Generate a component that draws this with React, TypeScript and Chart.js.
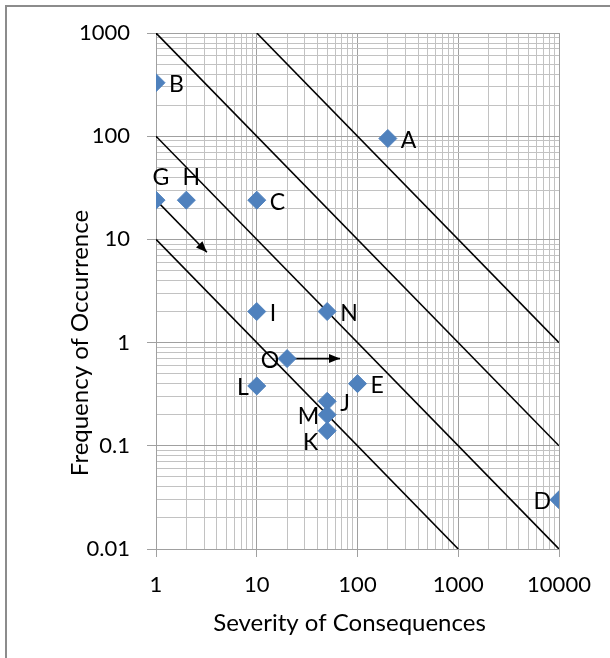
import React, { useEffect, useRef } from "react";
import { Chart, registerables } from "chart.js";

Chart.register(...registerables);

// ---- data ----
const pointLabels = ["A", "B", "C", "D", "E", "G", "H", "I", "J", "K", "L", "M", "N", "O"];
const severity = [200, 1, 10, 10000, 100, 1, 2, 10, 50, 50, 10, 50, 50, 20];
const frequency = [95, 330, 24, 0.03, 0.4, 24, 24, 2, 0.27, 0.14, 0.38, 0.2, 2, 0.7];
const labelSide = ["right", "right", "right", "left", "right", "above", "above", "right", "right", "leftBelow", "left", "left", "right", "left"];

// iso-risk lines (severity x frequency = constant)
const riskStartX = [1, 1, 1, 10];
const riskStartY = [10, 100, 1000, 1000];
const riskEndX = [1000, 10000, 10000, 10000];
const riskEndY = [0.01, 0.01, 0.1, 1];

// arrows
const arrowFromX = [1, 20];
const arrowFromY = [24, 0.7];
const arrowToX = [3.2, 67];
const arrowToY = [7.5, 0.7];

// axes
const xMajorTicks = [1, 10, 100, 1000, 10000];
const yMajorTicks = [0.01, 0.1, 1, 10, 100, 1000];
const xTitle = "Severity of Consequences";
const yTitle = "Frequency of Occurrence";

const FONT = "Lato";
const POINT_COLOR = "#4F81BD";

function buildLogTicks(majors: number[]) {
  const ticks: { value: number; major: boolean }[] = [];
  for (let i = 0; i < majors.length - 1; i++) {
    for (let k = 1; k <= 9; k++) {
      ticks.push({ value: parseFloat((k * majors[i]).toPrecision(6)), major: k === 1 });
    }
  }
  ticks.push({ value: majors[majors.length - 1], major: true });
  return ticks;
}

const overlayPlugin = {
  id: "overlay",
  afterDatasetsDraw(chart: any) {
    const ctx = chart.ctx;
    const xs = chart.scales.x;
    const ys = chart.scales.y;
    ctx.save();
    // arrowheads
    ctx.fillStyle = "#000";
    for (let i = 0; i < arrowToX.length; i++) {
      const x0 = xs.getPixelForValue(arrowFromX[i]);
      const y0 = ys.getPixelForValue(arrowFromY[i]);
      const x1 = xs.getPixelForValue(arrowToX[i]);
      const y1 = ys.getPixelForValue(arrowToY[i]);
      const a = Math.atan2(y1 - y0, x1 - x0);
      const len = 11;
      const hw = 4.5;
      ctx.beginPath();
      ctx.moveTo(x1, y1);
      ctx.lineTo(x1 - len * Math.cos(a) + hw * Math.sin(a), y1 - len * Math.sin(a) - hw * Math.cos(a));
      ctx.lineTo(x1 - len * Math.cos(a) - hw * Math.sin(a), y1 - len * Math.sin(a) + hw * Math.cos(a));
      ctx.closePath();
      ctx.fill();
    }
    // point labels
    const meta = chart.getDatasetMeta(0);
    ctx.font = `23px ${FONT}`;
    ctx.fillStyle = "#000";
    ctx.textBaseline = "middle";
    meta.data.forEach((el: any, i: number) => {
      const side = labelSide[i];
      const t = pointLabels[i];
      if (side === "right") {
        ctx.textAlign = "left";
        ctx.fillText(t, el.x + 13, el.y + 2);
      } else if (side === "left") {
        ctx.textAlign = "right";
        ctx.fillText(t, el.x - 8, el.y + 2);
      } else if (side === "leftBelow") {
        ctx.textAlign = "right";
        ctx.fillText(t, el.x - 9, el.y + 12);
      } else {
        ctx.textAlign = "center";
        ctx.fillText(t, el.x + 5, el.y - 23);
      }
    });
    // axis titles
    ctx.font = `24px ${FONT}`;
    ctx.textAlign = "center";
    ctx.textBaseline = "middle";
    const ca = chart.chartArea;
    ctx.fillText(xTitle, (ca.left + ca.right) / 2 - 8, 623);
    ctx.translate(80, (ca.top + ca.bottom) / 2 + 52);
    ctx.rotate(-Math.PI / 2);
    ctx.fillText(yTitle, 0, 0);
    ctx.restore();
  },
};

export default function App() {
  const ref = useRef<HTMLCanvasElement>(null);
  useEffect(() => {
    if (!ref.current) return;
    Chart.defaults.font.family = FONT;
    const riskDatasets = riskStartX.map((_, i) => ({
      type: "line" as const,
      data: [
        { x: riskStartX[i], y: riskStartY[i] },
        { x: riskEndX[i], y: riskEndY[i] },
      ],
      borderColor: "#000",
      borderWidth: 1.6,
      pointRadius: 0,
      fill: false,
      order: 2,
    }));
    const arrowDatasets = arrowFromX.map((_, i) => ({
      type: "line" as const,
      data: [
        { x: arrowFromX[i], y: arrowFromY[i] },
        { x: arrowToX[i], y: arrowToY[i] },
      ],
      borderColor: "#000",
      borderWidth: 1.6,
      pointRadius: 0,
      fill: false,
      order: 1,
    }));
    const gridColor = (c: any) => (c.tick && c.tick.major ? "#a0a0a0" : "#c2c2c2");
    const tickColor = (c: any) => (c.tick && c.tick.major ? "#a0a0a0" : "rgba(0,0,0,0)");
    const chart = new Chart(ref.current, {
      type: "scatter",
      data: {
        datasets: [
          {
            data: severity.map((s, i) => ({ x: s, y: frequency[i] })),
            backgroundColor: POINT_COLOR,
            borderColor: POINT_COLOR,
            pointStyle: "rectRot",
            pointRadius: 9,
            pointHoverRadius: 9,
            order: 0,
          } as any,
          ...arrowDatasets,
          ...riskDatasets,
        ],
      },
      options: {
        animation: false,
        responsive: false,
        devicePixelRatio: 1,
        layout: { padding: { left: 0, top: 33, right: 51, bottom: 0 } },
        plugins: { legend: { display: false }, tooltip: { enabled: false } },
        scales: {
          x: {
            type: "logarithmic",
            min: 1,
            max: 10000,
            afterBuildTicks: (s: any) => {
              s.ticks = buildLogTicks(xMajorTicks);
            },
            afterFit: (s: any) => {
              s.height = 109;
            },
            ticks: {
              autoSkip: false,
              maxRotation: 0,
              padding: 15,
              color: "#000",
              font: { size: 22, family: FONT },
              callback: (v: any) => (xMajorTicks.includes(Number(v)) ? String(v) : ""),
            },
            grid: { color: gridColor, tickColor, tickLength: 8, lineWidth: 1 },
            border: { color: "#a0a0a0", width: 1 },
          },
          y: {
            type: "logarithmic",
            min: 0.01,
            max: 1000,
            afterBuildTicks: (s: any) => {
              s.ticks = buildLogTicks(yMajorTicks);
            },
            afterFit: (s: any) => {
              s.width = 156;
            },
            ticks: {
              autoSkip: false,
              padding: 17,
              color: "#000",
              font: { size: 22, family: FONT },
              callback: (v: any) => (yMajorTicks.includes(Number(v)) ? String(v) : ""),
            },
            grid: { color: gridColor, tickColor, tickLength: 9, lineWidth: 1 },
            border: { color: "#a0a0a0", width: 1 },
          },
        },
      } as any,
      plugins: [overlayPlugin],
    });
    return () => chart.destroy();
  }, []);
  return (
    <div style={{ position: "fixed", left: 0, top: 0, width: 610, height: 658, background: "#fff", overflow: "hidden" }}>
      <div
        style={{
          position: "absolute",
          left: 5,
          top: 5,
          width: 700,
          height: 700,
          borderLeft: "2px solid #8c8c8c",
          borderTop: "2px solid #8c8c8c",
        }}
      />
      <canvas ref={ref} width={610} height={658} style={{ position: "absolute", left: 0, top: 0, display: "block" }} />
    </div>
  );
}
